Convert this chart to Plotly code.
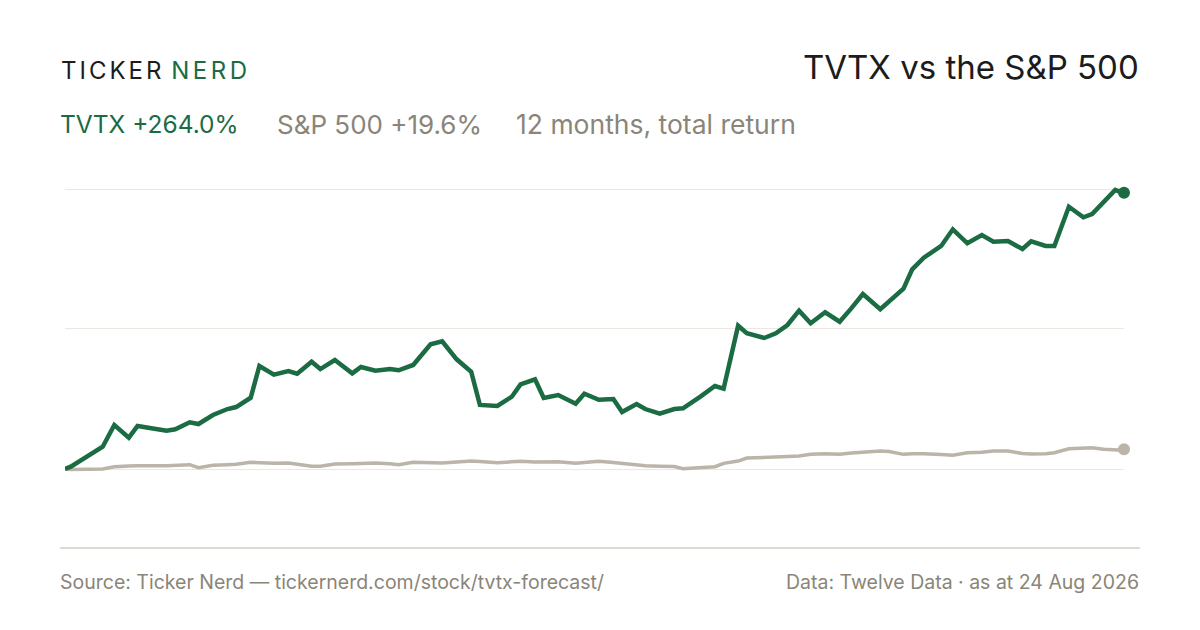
import pandas as pd
import plotly.graph_objects as go

# days since 24 Aug 2025
day_offsets = [0, 2, 13, 17, 22, 25, 35, 38, 43, 46, 51, 56, 59, 64, 67, 72, 77, 80,
               85, 88, 93, 99, 102, 107, 112, 115, 120, 126, 130, 135, 140, 143, 149,
               154, 157, 162, 165, 170, 176, 179, 184, 189, 192, 197, 200, 205, 210,
               213, 219, 224, 227, 232, 235, 241, 245, 249, 253, 257, 262, 267, 271,
               275, 281, 284, 289, 292, 296, 302, 306, 311, 316, 320, 325, 330, 333,
               338, 341, 346, 351, 354, 358, 362, 363, 365]

# cumulative total return, %
tvtx_return = [0.0, 2.2, 21.3, 42.0, 29.9, 41.1, 36.6, 37.9, 44.6, 43.0, 51.6, 57.3,
               59.2, 68.1, 98.4, 90.1, 93.6, 91.1, 102.5, 95.5, 104.1, 91.4, 97.5,
               93.9, 95.5, 94.3, 99.4, 119.1, 122.0, 104.8, 93.0, 61.2, 60.2, 69.1,
               80.9, 85.7, 67.8, 70.7, 62.4, 71.9, 66.2, 66.9, 54.5, 62.1, 57.3, 52.8,
               57.3, 58.0, 69.1, 79.3, 76.7, 136.9, 129.7, 125.2, 129.7, 137.6, 151.3,
               139.2, 149.7, 140.7, 153.5, 167.2, 152.6, 160.5, 172.3, 190.8, 201.9,
               213.1, 229.0, 215.7, 223.6, 217.2, 217.8, 210.2, 217.6, 213.1, 213.1,
               250.6, 240.5, 243.6, 255.4, 266.6, 265.6, 264.0]

spx_return = [0.0, -0.5, 0.0, 2.2, 2.9, 3.2, 3.2, 3.8, 4.1, 1.2, 3.5, 4.1, 4.5, 6.4,
              5.9, 5.4, 5.7, 4.3, 2.6, 2.6, 4.8, 5.1, 5.5, 5.7, 5.0, 4.1, 6.4, 6.4,
              5.7, 6.7, 7.6, 7.2, 6.0, 6.9, 7.4, 6.7, 6.7, 7.0, 5.4, 6.2, 7.4, 6.2,
              5.4, 4.8, 3.2, 2.7, 2.4, 0.3, 1.2, 2.2, 5.4, 7.6, 10.5, 10.8, 11.2,
              11.9, 12.4, 14.0, 14.6, 14.0, 15.3, 16.2, 17.2, 16.7, 14.0, 14.5, 14.6,
              13.9, 13.1, 15.6, 16.0, 17.2, 17.2, 14.8, 14.3, 14.6, 15.6, 19.4, 19.8,
              20.4, 18.8, 18.3, 18.2, 18.8]

grid_values = [0, 133.8, 267.5]

start_date = pd.Timestamp("2025-08-24")
dates = start_date + pd.to_timedelta(day_offsets, unit="D")

GREEN = "#1b6b43"
SAND = "#bbb4a8"
GREY_TEXT = "#8a8578"
INK = "#1c1c1c"
FONT = "Inter"

# the page sits 8px in from the window corner
OFF = 8
W, H = 1200, 630
PLOT_W, PLOT_H = 1059, 368
L, T = 65 - OFF, 180 - OFF
R = W - L - PLOT_W
B = H - T - PLOT_H


def px(x):
    # screen x -> paper x
    return (x - OFF - L) / PLOT_W


def py(y):
    # screen y -> paper y
    return (T + PLOT_H - (y - OFF)) / PLOT_H


fig = go.Figure()

fig.add_trace(go.Scatter(
    x=dates, y=spx_return, mode="lines",
    line=dict(color=SAND, width=3.5), cliponaxis=False,
    hoverinfo="skip", name="S&P 500"))
fig.add_trace(go.Scatter(
    x=dates[-1:], y=spx_return[-1:], mode="markers",
    marker=dict(color=SAND, size=12), cliponaxis=False, hoverinfo="skip"))

fig.add_trace(go.Scatter(
    x=dates, y=tvtx_return, mode="lines",
    line=dict(color=GREEN, width=4.5), cliponaxis=False,
    hoverinfo="skip", name="TVTX"))
fig.add_trace(go.Scatter(
    x=dates[-1:], y=tvtx_return[-1:], mode="markers",
    marker=dict(color=GREEN, size=12), cliponaxis=False, hoverinfo="skip"))

annos = [
    dict(x=px(59), y=py(71), xanchor="left",
         text='<span style="letter-spacing:3px">TICKER</span> '
              f'<span style="letter-spacing:3.5px;color:{GREEN}">NERD</span>',
         font=dict(size=24, color=INK, family=FONT)),
    dict(x=px(1141), y=py(67), xanchor="right",
         text="TVTX vs the S&P 500", font=dict(size=33, color=INK, family=FONT)),
    dict(x=px(58), y=py(124.5), xanchor="left",
         text="TVTX +264.0%", font=dict(size=24.5, color=GREEN, family=FONT)),
    dict(x=px(275), y=py(124.5), xanchor="left",
         text="S&P 500 +19.6%", font=dict(size=26, color=GREY_TEXT, family=FONT)),
    dict(x=px(514), y=py(124.5), xanchor="left",
         text="12 months, total return", font=dict(size=26.5, color=GREY_TEXT, family=FONT)),
    dict(x=px(58), y=py(581.5), xanchor="left",
         text="Source: Ticker Nerd — tickernerd.com/stock/tvtx-forecast/",
         font=dict(size=19.5, color=GREY_TEXT, family=FONT)),
    dict(x=px(1141), y=py(581.5), xanchor="right",
         text="Data: Twelve Data · as at 24 Aug 2026",
         font=dict(size=19.5, color=GREY_TEXT, family=FONT)),
]
for a in annos:
    fig.add_annotation(xref="paper", yref="paper", showarrow=False,
                       yanchor="middle", **a)

# rule under the plot
fig.add_shape(type="line", xref="paper", yref="paper",
              x0=px(60), x1=px(1140), y0=py(548), y1=py(548),
              line=dict(color="#dedad1", width=2))

y_per_px = 1.0466
zero_y = 469 - OFF
fig.update_layout(
    width=W, height=H,
    margin=dict(l=L, r=R, t=T, b=B),
    paper_bgcolor="white", plot_bgcolor="white",
    showlegend=False,
    xaxis=dict(range=[dates[0], dates[-1]], showgrid=False, zeroline=False,
               showticklabels=False, ticks="", showline=False),
    yaxis=dict(range=[-(T + PLOT_H - zero_y) / y_per_px, (zero_y - T) / y_per_px],
               tickvals=grid_values, showticklabels=False, ticks="",
               gridcolor="#ebe8e2", gridwidth=1, zeroline=False, showline=False),
)

fig.write_html("out.html")
